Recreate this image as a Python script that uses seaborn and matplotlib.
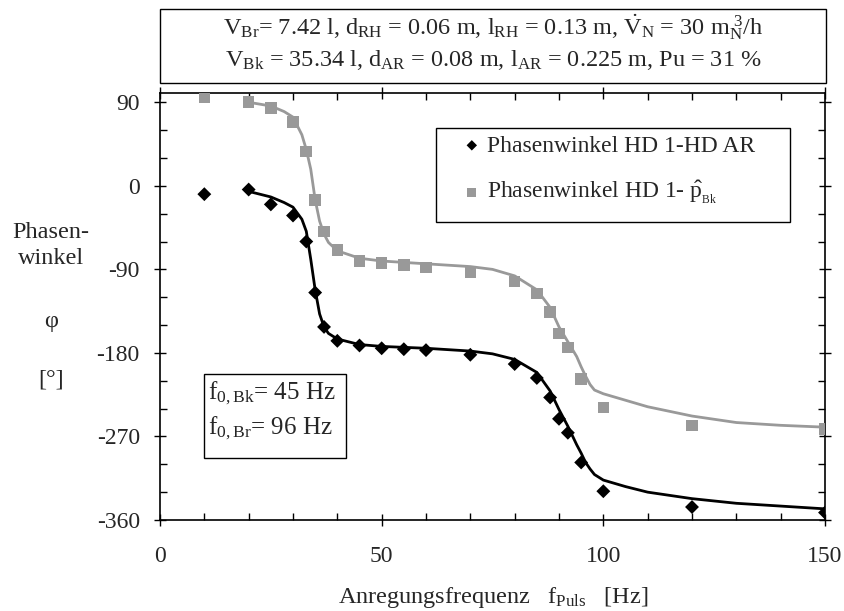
import numpy as np
import pandas as pd
import matplotlib
matplotlib.use('Agg')
import matplotlib.pyplot as plt
from matplotlib.ticker import MultipleLocator
from matplotlib.patches import Rectangle
import seaborn as sns

# Messpunkte
f_mess = [10, 20, 25, 30, 33, 35, 37, 40, 45, 50, 55, 60, 70, 80, 85, 88, 90, 92, 95, 100, 120, 150]
phi_ar = [-9, -4, -20, -32, -60, -115, -152, -167, -172, -175, -176, -177, -182, -192, -207, -228,
          -251, -266, -298, -329, -346, -352]
phi_bk = [96, 90, 84, 69, 37, -15, -49, -69, -81, -83, -85, -88, -93, -103, -116, -136,
          -159, -174, -208, -239, -258, -262]

# Kurven (Modell)
f_kurve = [20, 25, 28, 30, 32, 33, 34, 35, 36, 37, 38, 40, 45, 50, 60, 70, 75, 80, 85, 88, 90,
           92, 94, 95, 96, 97, 98, 100, 105, 110, 120, 130, 140, 150]
kurve_ar = [-6, -12, -18, -23, -36, -49, -79, -112, -138, -152, -159, -165, -171, -173, -175, -178,
            -181, -187, -201, -221, -241, -259, -279, -288, -298, -305, -311, -317, -324, -330,
            -337, -342, -345, -348]
kurve_bk = [90, 86, 80, 74, 55, 39, 18, -15, -38, -52, -61, -70, -78, -81, -84, -87, -90, -97,
            -112, -131, -152, -168, -184, -195, -205, -214, -220, -224, -231, -238, -248, -255,
            -258, -260]

grau = '#999999'
W, H = 845, 611


def fx(px):
    return px / W


def fy(py):
    return 1 - py / H


sns.set_style('ticks')
plt.rcParams['font.family'] = ['Liberation Serif', 'DejaVu Serif']
plt.rcParams['mathtext.fontset'] = 'custom'
plt.rcParams['mathtext.rm'] = 'Liberation Serif'
plt.rcParams['mathtext.it'] = 'Liberation Serif'
plt.rcParams['mathtext.bf'] = 'Liberation Serif'
plt.rcParams['axes.unicode_minus'] = False
plt.rcParams['font.size'] = 17

fig = plt.figure(figsize=(8.45, 6.11), dpi=100)
ax = fig.add_axes([fx(160), fy(520), fx(825) - fx(160), fy(93) - fy(520)])

df_mess = pd.DataFrame({'f': f_mess, 'ar': phi_ar, 'bk': phi_bk})
df_kurve = pd.DataFrame({'f': f_kurve, 'ar': kurve_ar, 'bk': kurve_bk})

sns.lineplot(data=df_kurve, x='f', y='bk', color=grau, lw=2, ax=ax, sort=False)
sns.lineplot(data=df_kurve, x='f', y='ar', color='black', lw=2, ax=ax, sort=False)
sns.scatterplot(data=df_mess, x='f', y='ar', marker='D', s=50, color='black', edgecolor='none',
                ax=ax, label='Phasenwinkel HD 1-HD AR', zorder=5)
sns.scatterplot(data=df_mess, x='f', y='bk', marker='s', s=70, color=grau, edgecolor='none',
                ax=ax, label=r'Phasenwinkel HD 1- $\hat{\mathrm{p}}_{_{\mathrm{Bk}}}$', zorder=5)

ax.set_xlim(0, 150)
ax.set_ylim(-360, 100)
ax.xaxis.set_major_locator(MultipleLocator(50))
ax.xaxis.set_minor_locator(MultipleLocator(10))
ax.yaxis.set_major_locator(MultipleLocator(90))
ax.yaxis.set_minor_locator(MultipleLocator(30))
ax.tick_params(axis='both', which='both', top=True, right=True, direction='in', labelsize=17,
               color='black', width=1)
ax.tick_params(axis='x', which='major', length=9, direction='inout', pad=14)
ax.tick_params(axis='x', which='minor', length=5)
ax.tick_params(axis='y', which='major', length=9, direction='inout', pad=10)
ax.tick_params(axis='y', which='minor', length=5)
for s in ax.spines.values():
    s.set_linewidth(1.2)
    s.set_color('black')
ax.set_xlabel('')
ax.set_ylabel('')

# Legende ohne eigenen Rahmen, Rahmen separat
leg = ax.legend(loc='upper left', bbox_to_anchor=(fx(460), fy(135)), bbox_transform=fig.transFigure,
                frameon=False, fontsize=17, handletextpad=0.15, borderpad=0, borderaxespad=0,
                labelspacing=0.95, handlelength=1.0, markerscale=0.75)
fig.patches.append(Rectangle((fx(436), fy(222)), fx(790) - fx(436), fy(128) - fy(222),
                             transform=fig.transFigure, fill=False, ec='black', lw=1))

# Eigenfrequenzen
fig.patches.append(Rectangle((fx(204), fy(458)), fx(346) - fx(204), fy(374) - fy(458),
                             transform=fig.transFigure, fc='white', ec='black', lw=1, zorder=3))
fig.text(fx(208), fy(393), r'$\mathrm{f_{0,Bk}}$= 45 Hz', ha='left', va='center', fontsize=18, zorder=4)
fig.text(fx(208), fy(428), r'$\mathrm{f_{0,Br}}$= 96 Hz', ha='left', va='center', fontsize=18, zorder=4)

# Kopfzeile
fig.patches.append(Rectangle((fx(160), fy(83)), fx(826) - fx(160), fy(9) - fy(83),
                             transform=fig.transFigure, fill=False, ec='black', lw=1))
kopf1 = (r'$\mathrm{V_{Br}}$= 7.42 l, $\mathrm{d_{RH}}$ = 0.06 m, $\mathrm{l_{RH}}$ = 0.13 m, '
         r'$\mathrm{\dot{V}_N}$ = 30 $\mathrm{m_N^{\ 3}}$/h')
kopf2 = r'$\mathrm{V_{Bk}}$ = 35.34 l, $\mathrm{d_{AR}}$ = 0.08 m, $\mathrm{l_{AR}}$ = 0.225 m, Pu = 31 %'
fig.text(fx(493), fy(27), kopf1, ha='center', va='center', fontsize=17.5)
fig.text(fx(493), fy(60), kopf2, ha='center', va='center', fontsize=17.5)

fig.text(fx(51), fy(233), 'Phasen-', ha='center', va='center', fontsize=17.5)
fig.text(fx(51), fy(258), 'winkel', ha='center', va='center', fontsize=17.5)
fig.text(fx(51), fy(322), 'φ', ha='center', va='center', fontsize=17.5)
fig.text(fx(51), fy(380), '[°]', ha='center', va='center', fontsize=17.5)
fig.text(fx(493), fy(597), r'Anregungsfrequenz   $\mathrm{f_{Puls}}$   [Hz]', ha='center', va='center',
         fontsize=17.5)

fig.savefig('out.png', dpi=100)
